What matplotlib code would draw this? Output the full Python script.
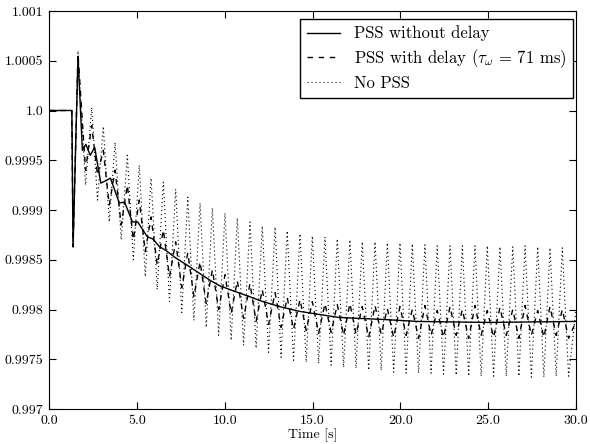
import numpy as np
import matplotlib
matplotlib.use('Agg')
import matplotlib.pyplot as plt

# computer modern look like the latex original
plt.rcParams['font.family'] = 'serif'
plt.rcParams['font.serif'] = ['cmr10']
plt.rcParams['mathtext.fontset'] = 'cm'
plt.rcParams['axes.unicode_minus'] = False

# PSS without delay (solid)
t_pss = [0.0, 1.3, 1.37, 1.65, 1.9, 2.1, 2.35, 2.6, 2.95, 3.5, 4.0, 4.3, 4.75, 5.05,
         5.6, 5.9, 6.3, 6.6, 7.2, 8.0, 8.6, 9.2, 9.7, 10.3, 11.4, 12.0, 13.1, 14.3,
         15.4, 16.5, 19.0, 21.0, 25.0, 30.0]
f_pss = [1.0, 1.0, 0.99863, 1.00054, 0.9996, 0.99966, 0.99955, 0.99963, 0.99927,
         0.99932, 0.99907, 0.99908, 0.99888, 0.99888, 0.99873, 0.99871, 0.99863,
         0.9986, 0.99852, 0.99843, 0.99836, 0.99829, 0.99824, 0.9982, 0.99813,
         0.99809, 0.99803, 0.99798, 0.99795, 0.99792, 0.9979, 0.99788, 0.99787, 0.99788]

# start of the disturbance, same for all three
t_start = [0.0, 1.3, 1.37, 1.65]

# times of the oscillation tops and bottoms
t_peaks = [2.43, 3.09, 3.76, 4.46, 5.14, 5.81, 6.51, 7.21, 7.90, 8.60, 9.30, 10.02,
           10.72, 11.44, 12.14, 12.87, 13.56, 14.29, 14.99, 15.71, 16.41, 17.13,
           17.83, 18.56, 19.26, 19.98, 20.68, 21.40, 22.10, 22.83, 23.53, 24.25,
           24.95, 25.67, 26.40, 27.10, 27.82, 28.52, 29.22]
t_troughs = [2.08, 2.76, 3.43, 4.11, 4.80, 5.48, 6.16, 6.86, 7.56, 8.25, 8.95, 9.66,
             10.37, 11.08, 11.79, 12.50, 13.21, 13.92, 14.64, 15.35, 16.06, 16.77,
             17.48, 18.20, 18.91, 19.62, 20.33, 21.04, 21.75, 22.46, 23.18, 23.89,
             24.60, 25.31, 26.03, 26.75, 27.46, 28.17, 28.87, 29.58]

# No PSS (dotted)
nopss_start = [1.0, 1.0, 0.99863, 1.0006]
nopss_peaks = [1.00003, 0.99984, 0.99968, 0.99955, 0.99945, 0.99932, 0.99928, 0.99921,
               0.99913, 0.99907, 0.99902, 0.99897, 0.99892, 0.99888, 0.99884, 0.99883,
               0.99879, 0.99876, 0.99874, 0.99873, 0.99871, 0.9987, 0.99868, 0.99868,
               0.99867, 0.99867, 0.99866, 0.99865, 0.99864, 0.99864, 0.99864, 0.99864,
               0.99864, 0.99863, 0.99863, 0.99864, 0.99863, 0.99862, 0.99862]
nopss_troughs = [0.99925, 0.9991, 0.99888, 0.9987, 0.9985, 0.99833, 0.9982, 0.99808,
                 0.99797, 0.99789, 0.99782, 0.99774, 0.99769, 0.99764, 0.99761, 0.99757,
                 0.99752, 0.99749, 0.99747, 0.99746, 0.99744, 0.99742, 0.99741, 0.99739,
                 0.99739, 0.99737, 0.99736, 0.99736, 0.99736, 0.99735, 0.99734, 0.99733,
                 0.99733, 0.99733, 0.99733, 0.99733, 0.99732, 0.99732, 0.99733, 0.99733]
nopss_end = 0.9980

# PSS with delay (dashed)
delay_start = [1.0, 1.0, 0.99863, 1.00057]
delay_peaks = [0.99985, 0.9996, 0.9994, 0.99925, 0.9991, 0.99893, 0.9988, 0.99868,
               0.99857, 0.99848, 0.9984, 0.99835, 0.99829, 0.99826, 0.9982, 0.99817,
               0.99812, 0.9981, 0.99808, 0.99806, 0.99805, 0.99806, 0.99803, 0.99804,
               0.99801, 0.99803, 0.998, 0.99804, 0.99799, 0.99803, 0.998, 0.99804,
               0.99799, 0.99802, 0.998, 0.99804, 0.99799, 0.99803, 0.998]
delay_troughs = [0.9994, 0.99935, 0.99905, 0.99885, 0.9987, 0.99858, 0.99845, 0.99833,
                 0.99822, 0.99813, 0.99806, 0.998, 0.99796, 0.99791, 0.99788, 0.99785,
                 0.99782, 0.9978, 0.99779, 0.99776, 0.99777, 0.99774, 0.99775, 0.99772,
                 0.99775, 0.99772, 0.99774, 0.99771, 0.99774, 0.99772, 0.99774, 0.99771,
                 0.99774, 0.99772, 0.99774, 0.99771, 0.99774, 0.99772, 0.99774, 0.99771]
delay_end = 0.99788

x_ticks = [0, 5, 10, 15, 20, 25, 30]
x_ticklabels = ['0.0', '5.0', '10.0', '15.0', '20.0', '25.0', '30.0']
y_ticks = [0.997, 0.9975, 0.998, 0.9985, 0.999, 0.9995, 1.0, 1.0005, 1.001]
y_ticklabels = ['0.997', '0.9975', '0.998', '0.9985', '0.999', '0.9995', '1.0', '1.0005', '1.001']


def join_swings(start_t, start_f, peaks, troughs, end_f):
    # put tops and bottoms in time order after the first spike
    t = np.array(t_peaks + t_troughs)
    f = np.array(peaks + troughs)
    order = np.argsort(t)
    return (np.concatenate([start_t, t[order], [30.0]]),
            np.concatenate([start_f, f[order], [end_f]]))


t_nopss, f_nopss = join_swings(t_start, nopss_start, nopss_peaks, nopss_troughs, nopss_end)
t_delay, f_delay = join_swings(t_start, delay_start, delay_peaks, delay_troughs, delay_end)

fig = plt.figure(figsize=(5.9, 4.44), dpi=100)
ax = fig.add_axes([49 / 590, 35 / 444, 527 / 590, 398 / 444])

ax.plot(t_pss, f_pss, color='black', lw=1.0, label='PSS without delay')
ax.plot(t_delay, f_delay, color='black', lw=1.0, dashes=(4, 4),
        label=r'PSS with delay ($\tau_\omega\,=\,71$ ms)')
ax.plot(t_nopss, f_nopss, color='black', lw=0.8, dashes=(1, 2.6), label='No PSS')

ax.set_xlim(0, 30)
ax.set_ylim(0.997, 1.001)
ax.set_xticks(x_ticks)
ax.set_xticklabels(x_ticklabels)
ax.set_yticks(y_ticks)
ax.set_yticklabels(y_ticklabels)
ax.tick_params(direction='in', top=True, right=True, length=5, labelsize=10, pad=4)
ax.set_xlabel('Time [s]', fontsize=10, labelpad=1)

leg = ax.legend(loc='upper right', bbox_to_anchor=(0.9943, 0.98), borderaxespad=0,
                fontsize=12, fancybox=False, framealpha=1, edgecolor='black',
                handlelength=2.0, labelspacing=0.35)
leg.get_frame().set_linewidth(1.0)

fig.savefig('out.png', dpi=100)
